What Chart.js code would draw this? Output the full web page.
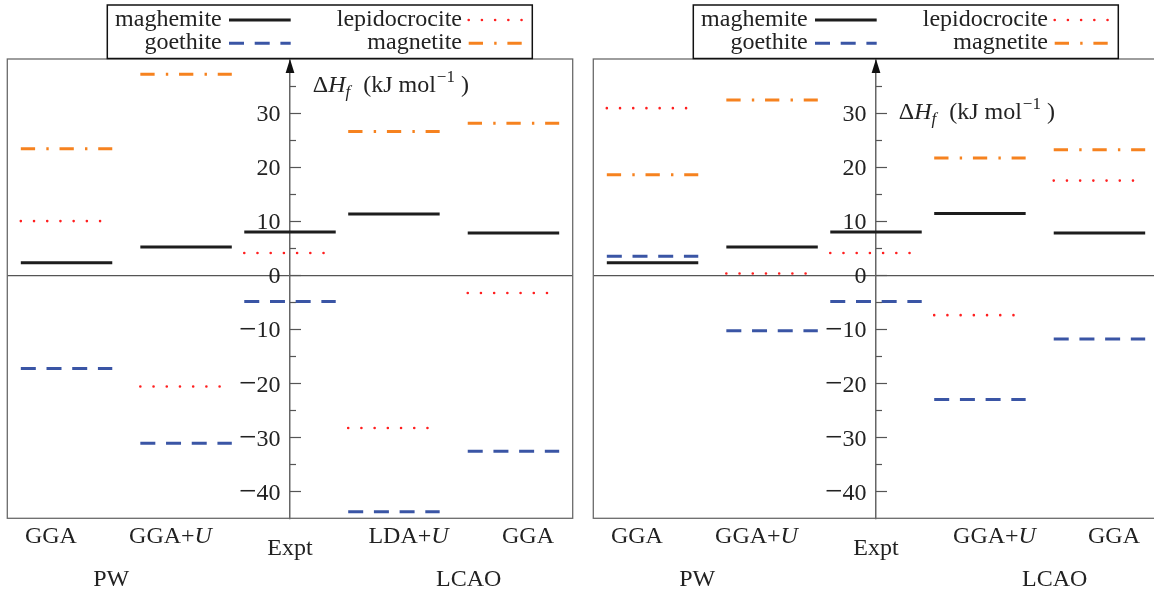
<!DOCTYPE html>
<html>
<head>
<meta charset="utf-8">
<script src="https://cdn.jsdelivr.net/npm/chart.js@4.4.1/dist/chart.umd.min.js"></script>
<style>
  html, body { margin: 0; padding: 0; background: #fff; overflow: hidden; }
  #wrap { position: relative; width: 1154px; height: 593px; overflow: hidden; }
  canvas { position: absolute; top: 0; }
  #left { left: 0; }
  #right { left: 586px; }
</style>
</head>
<body>
<div id="wrap">
  <canvas id="left" width="580" height="593"></canvas>
  <canvas id="right" width="580" height="593"></canvas>
</div>
<script>
// methods under each column, PW block on the left, LCAO block on the right
const methodsLeft = ['GGA', 'GGA+U', 'Expt', 'LDA+U', 'GGA'];
const methodsRight = ['GGA', 'GGA+U', 'Expt', 'GGA+U', 'GGA'];
const groups = ['PW', 'LCAO'];
const yTicks = [-40, -30, -20, -10, 0, 10, 20, 30];

// ΔH_f in kJ/mol, one value per column (null = not computed)
const maghemiteL = [2.3, 5.2, 8.0, 11.3, 7.8];
const goethiteL = [-17.3, -31.1, -4.9, -43.8, -32.6];
const lepidocrociteL = [10.0, -20.6, 4.1, -28.3, -3.3];
const magnetiteL = [23.4, 37.2, null, 26.6, 28.1];

const maghemiteR = [2.3, 5.2, 8.0, 11.4, 7.8];
const goethiteR = [3.5, -10.3, -4.9, -23.0, -11.8];
const lepidocrociteR = [30.9, 0.3, 4.1, -7.4, 17.5];
const magnetiteR = [18.6, 32.4, null, 21.7, 23.2];

// layout in x-axis units (the y axis sits at x = 0)
const colX = [-2.15, -1, 0, 1, 2.15];
const halfW = 0.44;
const labelX = [-2.3, -1.15, 0, 1.14, 2.29];
const groupX = [-1.72, 1.72];

const SERIF = '"Liberation Serif", "DejaVu Serif", serif';
const TEXT = '#222';

const seriesNames = ['maghemite', 'goethite', 'lepidocrocite', 'magnetite'];
const seriesStyle = {
  maghemite: { color: '#1d1d1d', width: 3, dash: [], cap: 'butt' },
  goethite: { color: '#3a55a5', width: 3, dash: [15, 10.7], cap: 'butt' },
  lepidocrocite: { color: '#ff1f1f', width: 2.6, dash: [0.01, 13.2], cap: 'round' },
  magnetite: { color: '#f6821f', width: 3, dash: [14.3, 11.2, 2.4, 10.8], cap: 'butt' },
};

// each level becomes a short flat segment, a null point breaks the line
function levelPoints(values) {
  const pts = [];
  values.forEach((v, i) => {
    if (v === null) return;
    pts.push({ x: colX[i] - halfW, y: v });
    pts.push({ x: colX[i] + halfW, y: v });
    pts.push({ x: colX[i] + halfW + 0.05, y: null });
  });
  return pts;
}

function makeDatasets(seriesValues) {
  return seriesNames.map((name, k) => {
    const s = seriesStyle[name];
    return {
      label: name,
      data: levelPoints(seriesValues[k]),
      borderColor: s.color,
      borderWidth: s.width,
      borderDash: s.dash,
      borderCapStyle: s.cap,
      pointRadius: 0,
      fill: false,
      tension: 0,
      spanGaps: false,
    };
  });
}

// draws text pieces one after another, returns the end x
function drawRun(ctx, parts, x, y) {
  parts.forEach((p) => {
    ctx.font = p.font;
    ctx.fillText(p.text, x, y + (p.dy || 0));
    x += ctx.measureText(p.text).width + (p.gap || 0);
  });
  return x;
}

function runWidth(ctx, parts) {
  let w = 0;
  parts.forEach((p) => {
    ctx.font = p.font;
    w += ctx.measureText(p.text).width + (p.gap || 0);
  });
  return w;
}

function methodParts(label) {
  const up = `24px ${SERIF}`;
  const it = `italic 24px ${SERIF}`;
  if (label.endsWith('+U')) {
    return [{ text: label.slice(0, -1), font: up }, { text: 'U', font: it }];
  }
  return [{ text: label, font: up }];
}

const panelPlugin = {
  id: 'panel',
  beforeDatasetsDraw(chart) {
    const { ctx, chartArea: a, scales: { x, y } } = chart;
    const ax = x.getPixelForValue(0);
    ctx.save();
    // frame
    ctx.strokeStyle = '#6a6a6a';
    ctx.lineWidth = 1.3;
    ctx.strokeRect(a.left, a.top, a.right - a.left, a.bottom - a.top);
    // tick marks on the inner side of the axis
    ctx.strokeStyle = '#555';
    ctx.lineWidth = 1.2;
    for (let v = -40; v <= 35; v += 5) {
      const py = Math.round(y.getPixelForValue(v)) + 0.5;
      const len = v % 10 === 0 ? 11 : 6;
      ctx.beginPath();
      ctx.moveTo(ax, py);
      ctx.lineTo(ax + len, py);
      ctx.stroke();
    }
    // tick labels left of the axis, with a long minus sign
    const font = `24px ${SERIF}`;
    ctx.fillStyle = TEXT;
    ctx.textBaseline = 'middle';
    ctx.textAlign = 'left';
    y.ticks.forEach((t) => {
      const py = y.getPixelForValue(t.value) + 2;
      const parts = t.value < 0
        ? [{ text: '\u2212', font: `31px ${SERIF}`, gap: 0 }, { text: String(-t.value), font }]
        : [{ text: String(t.value), font }];
      const w = runWidth(ctx, parts);
      drawRun(ctx, parts, ax - 9.5 - w, py);
    });
    // arrow head
    ctx.fillStyle = '#111';
    ctx.beginPath();
    ctx.moveTo(ax, a.top);
    ctx.lineTo(ax - 4.4, a.top + 14);
    ctx.lineTo(ax + 4.4, a.top + 14);
    ctx.closePath();
    ctx.fill();
    ctx.restore();
  },
  afterDraw(chart, args, opts) {
    const { ctx, chartArea: a, scales: { x } } = chart;
    const ax = x.getPixelForValue(0);
    ctx.save();
    ctx.fillStyle = TEXT;
    ctx.textBaseline = 'alphabetic';
    ctx.textAlign = 'left';

    // axis title
    const up = `24px ${SERIF}`;
    const it = `italic 24px ${SERIF}`;
    drawRun(ctx, [
      { text: '\u0394', font: up },
      { text: 'H', font: it, gap: 0 },
      { text: 'f', font: `italic 17px ${SERIF}`, dy: 5, gap: 13 },
      { text: '(kJ', font: up, gap: 6 },
      { text: 'mol', font: up, gap: 1 },
      { text: '\u22121', font: `17px ${SERIF}`, dy: -10, gap: 6 },
      { text: ')', font: up },
    ], ax + 22.7, a.top + opts.titleDy);

    // method labels under the columns
    opts.methods.forEach((m, i) => {
      const parts = methodParts(m);
      const w = runWidth(ctx, parts);
      const cx = x.getPixelForValue(labelX[i]);
      const by = m === 'Expt' ? a.bottom + 36.7 : a.bottom + 24.4;
      drawRun(ctx, parts, cx - w / 2, by);
    });
    ctx.font = `24px ${SERIF}`;
    ctx.textAlign = 'center';
    groups.forEach((g, i) => {
      ctx.fillText(g, x.getPixelForValue(groupX[i]), a.bottom + 67.4);
    });

    // legend box
    const bx = a.left + 100;
    const bw = 425;
    ctx.fillStyle = '#fff';
    ctx.fillRect(bx, 5, bw, 53.5);
    ctx.strokeStyle = '#111';
    ctx.lineWidth = 1.5;
    ctx.strokeRect(bx, 5, bw, 53.5);
    const slots = [
      { tx: 114.4, s0: 121.7, s1: 183.4, row: 0 },
      { tx: 114.4, s0: 121.7, s1: 183.4, row: 1 },
      { tx: 354.7, s0: 361.4, s1: 422.4, row: 0 },
      { tx: 354.7, s0: 361.4, s1: 422.4, row: 1 },
    ];
    chart.data.datasets.forEach((ds, k) => {
      const sl = slots[k];
      const ly = sl.row === 0 ? 20 : 43.3;
      ctx.fillStyle = TEXT;
      ctx.font = `24px ${SERIF}`;
      ctx.textAlign = 'right';
      ctx.fillText(ds.label, bx + sl.tx, ly + 6);
      ctx.strokeStyle = ds.borderColor;
      ctx.lineWidth = ds.borderWidth;
      ctx.setLineDash(ds.borderDash);
      ctx.lineCap = ds.borderCapStyle;
      ctx.beginPath();
      ctx.moveTo(bx + sl.s0, ly);
      ctx.lineTo(bx + sl.s1, ly);
      ctx.stroke();
      ctx.setLineDash([]);
    });
    ctx.restore();
  },
};

function makePanel(canvasId, seriesValues, methods, titleDy) {
  return new Chart(document.getElementById(canvasId), {
    type: 'line',
    data: { datasets: makeDatasets(seriesValues) },
    options: {
      responsive: false,
      animation: false,
      events: [],
      layout: { padding: { left: 7.3, right: 7.3, top: 59, bottom: 74.7 } },
      scales: {
        x: { type: 'linear', min: -2.72, max: 2.72, display: false },
        y: {
          type: 'linear',
          min: -45,
          max: 40,
          position: { x: 0 },
          afterBuildTicks: (scale) => {
            scale.ticks = yTicks.map((v) => ({ value: v }));
          },
          ticks: { display: false },
          grid: {
            drawTicks: false,
            color: (c) => (c.tick && c.tick.value === 0 ? '#555' : 'rgba(0,0,0,0)'),
            lineWidth: 1.2,
          },
          border: { display: true, color: '#666', width: 1.5 },
        },
      },
      plugins: {
        legend: { display: false },
        tooltip: { enabled: false },
        panel: { methods, titleDy },
      },
    },
    plugins: [panelPlugin],
  });
}

makePanel('left', [maghemiteL, goethiteL, lepidocrociteL, magnetiteL], methodsLeft, 32.7);
makePanel('right', [maghemiteR, goethiteR, lepidocrociteR, magnetiteR], methodsRight, 60.3);
</script>
</body>
</html>
